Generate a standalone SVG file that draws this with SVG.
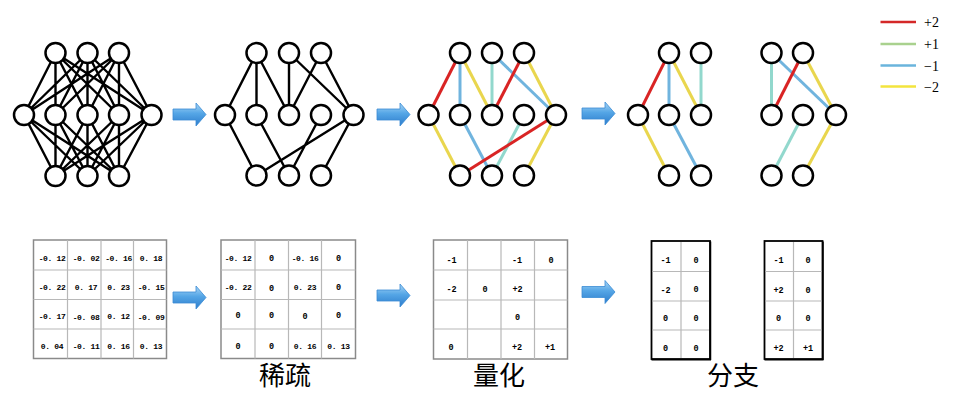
<svg xmlns="http://www.w3.org/2000/svg" width="958" height="404" viewBox="0 0 958 404">
<defs>
<linearGradient id="ag" x1="0" y1="0" x2="0" y2="1">
<stop offset="0" stop-color="#a9d6f6"/>
<stop offset="0.45" stop-color="#55a6e6"/>
<stop offset="1" stop-color="#2c7ccc"/>
</linearGradient>
<path id="arrow" d="M0,-5.5 H23 V-11.5 L33,0 L23,11.5 V5.5 H0 Z" fill="url(#ag)" stroke="#3a8bd4" stroke-width="0.8"/>
</defs>
<style>
.n circle{fill:#fff;stroke:#000;stroke-width:2.5}
.k{stroke:#000;stroke-width:2.4;fill:none}
.r{stroke:#d92424;stroke-width:3;fill:none}
.y{stroke:#e9d64e;stroke-width:3;fill:none}
.b{stroke:#70b4de;stroke-width:3;fill:none}
.t{stroke:#92d8cd;stroke-width:3;fill:none}
.grid{stroke:#b8b8b8;stroke-width:1.2;fill:none}
.box{stroke:#8a8a8a;stroke-width:1.5;fill:#fff}
.bbox{stroke:#000;stroke-width:1.8;fill:#fff}
.v{font-family:"Liberation Mono","DejaVu Sans Mono",monospace;font-weight:bold;font-size:8.5px;text-anchor:middle;fill:#000}
.d{font-size:8px;letter-spacing:-0.35px}
.cj{font-family:"Noto Sans CJK SC","Noto Sans",sans-serif;font-size:26px;text-anchor:middle;fill:#000}
.lg{font-family:"Liberation Serif","DejaVu Serif",serif;font-size:14px;fill:#000}
</style>

<g id="connectors">
<!-- network 1: fully connected -->
<path class="k" d="M55.5 53L24 115M55.5 53L55.5 115M55.5 53L87.5 115M55.5 53L119 115M55.5 53L151.5 115
M87.5 53L24 115M87.5 53L55.5 115M87.5 53L87.5 115M87.5 53L119 115M87.5 53L151.5 115
M119 53L24 115M119 53L55.5 115M119 53L87.5 115M119 53L119 115M119 53L151.5 115
M24 115L55.5 176M24 115L87.5 176M24 115L119 176
M55.5 115L55.5 176M55.5 115L87.5 176M55.5 115L119 176
M87.5 115L55.5 176M87.5 115L87.5 176M87.5 115L119 176
M119 115L55.5 176M119 115L87.5 176M119 115L119 176
M151.5 115L55.5 176M151.5 115L87.5 176M151.5 115L119 176"/>
<!-- network 2: sparse -->
<path class="k" d="M256.5 53L225 115M256.5 53L256.5 115M256.5 53L289 115M289 53L289 115M289 53L353.5 115M321 53L289 115M321 53L353.5 115
M225 115L256.5 175.5M256.5 115L289 175.5M321 115L289 175.5M353.5 115L256.5 175.5M353.5 115L321 175.5"/>
<!-- network 3: quantized -->
<line class="r" x1="460" y1="53" x2="428.5" y2="115"/>
<line class="b" x1="460" y1="53" x2="460" y2="115"/>
<line class="y" x1="460" y1="53" x2="492" y2="115"/>
<line class="t" x1="492" y1="53" x2="492" y2="115"/>
<line class="b" x1="492" y1="53" x2="556" y2="115"/>
<line class="r" x1="524" y1="53" x2="492" y2="115"/>
<line class="y" x1="524" y1="53" x2="556" y2="115"/>
<line class="y" x1="428.5" y1="115" x2="460" y2="175.5"/>
<line class="b" x1="460" y1="115" x2="492" y2="175.5"/>
<line class="t" x1="524" y1="115" x2="492" y2="175.5"/>
<line class="r" x1="556" y1="115" x2="460" y2="175.5"/>
<line class="y" x1="556" y1="115" x2="524" y2="175.5"/>
<!-- network 4a: branch -->
<line class="r" x1="669" y1="53" x2="638" y2="115"/>
<line class="b" x1="669" y1="53" x2="669" y2="115"/>
<line class="y" x1="669" y1="53" x2="701" y2="115"/>
<line class="t" x1="701" y1="53" x2="701" y2="115"/>
<line class="y" x1="638" y1="115" x2="669" y2="175.5"/>
<line class="b" x1="669" y1="115" x2="701" y2="175.5"/>
<!-- network 4b: branch -->
<line class="t" x1="771.5" y1="53" x2="771.5" y2="115"/>
<line class="b" x1="771.5" y1="53" x2="836" y2="115"/>
<line class="r" x1="803" y1="53" x2="771.5" y2="115"/>
<line class="y" x1="803" y1="53" x2="836" y2="115"/>
<line class="t" x1="803" y1="115" x2="771.5" y2="175.5"/>
<line class="y" x1="836" y1="115" x2="803" y2="175.5"/>
</g>

<g id="net1-nodes" class="n">
<circle cx="55.5" cy="53" r="10"/><circle cx="87.5" cy="53" r="10"/><circle cx="119" cy="53" r="10"/>
<circle cx="24" cy="115" r="10"/><circle cx="55.5" cy="115" r="10"/><circle cx="87.5" cy="115" r="10"/><circle cx="119" cy="115" r="10"/><circle cx="151.5" cy="115" r="10"/>
<circle cx="55.5" cy="176" r="10"/><circle cx="87.5" cy="176" r="10"/><circle cx="119" cy="176" r="10"/>
</g>
<g id="net2-nodes" class="n">
<circle cx="256.5" cy="53" r="10"/><circle cx="289" cy="53" r="10"/><circle cx="321" cy="53" r="10"/>
<circle cx="225" cy="115" r="10"/><circle cx="256.5" cy="115" r="10"/><circle cx="289" cy="115" r="10"/><circle cx="321" cy="115" r="10"/><circle cx="353.5" cy="115" r="10"/>
<circle cx="256.5" cy="175.5" r="10"/><circle cx="289" cy="175.5" r="10"/><circle cx="321" cy="175.5" r="10"/>
</g>
<g id="net3-nodes" class="n">
<circle cx="460" cy="53" r="10"/><circle cx="492" cy="53" r="10"/><circle cx="524" cy="53" r="10"/>
<circle cx="428.5" cy="115" r="10"/><circle cx="460" cy="115" r="10"/><circle cx="492" cy="115" r="10"/><circle cx="524" cy="115" r="10"/><circle cx="556" cy="115" r="10"/>
<circle cx="460" cy="175.5" r="10"/><circle cx="492" cy="175.5" r="10"/><circle cx="524" cy="175.5" r="10"/>
</g>
<g id="net4a-nodes" class="n">
<circle cx="669" cy="53" r="10"/><circle cx="701" cy="53" r="10"/>
<circle cx="638" cy="115" r="10"/><circle cx="669" cy="115" r="10"/><circle cx="701" cy="115" r="10"/>
<circle cx="669" cy="175.5" r="10"/><circle cx="701" cy="175.5" r="10"/>
</g>
<g id="net4b-nodes" class="n">
<circle cx="771.5" cy="53" r="10"/><circle cx="803" cy="53" r="10"/>
<circle cx="771.5" cy="115" r="10"/><circle cx="803" cy="115" r="10"/><circle cx="836" cy="115" r="10"/>
<circle cx="771.5" cy="175.5" r="10"/><circle cx="803" cy="175.5" r="10"/>
</g>

<g id="arrows">
<use href="#arrow" x="173" y="114.5"/>
<use href="#arrow" x="377" y="114.5"/>
<use href="#arrow" x="582" y="113.5"/>
<use href="#arrow" x="173" y="297.5"/>
<use href="#arrow" x="377" y="295.5"/>
<use href="#arrow" x="582" y="292"/>
</g>

<g id="legend">
<line x1="880.5" y1="22" x2="916" y2="22" stroke="#d42828" stroke-width="2.6"/>
<line x1="880.5" y1="44" x2="916" y2="44" stroke="#a9d18e" stroke-width="2.6"/>
<line x1="880.5" y1="65.5" x2="916" y2="65.5" stroke="#6ab4dc" stroke-width="2.6"/>
<line x1="880.5" y1="86.5" x2="916" y2="86.5" stroke="#f3e43e" stroke-width="2.6"/>
<text class="lg" x="924" y="27">+2</text>
<text class="lg" x="924" y="49">+1</text>
<text class="lg" x="924" y="70.5">−1</text>
<text class="lg" x="924" y="91.5">−2</text>
</g>

<g id="matrix-original">
<rect class="box" x="33.5" y="240" width="133" height="118.5"/>
<path class="grid" d="M67.5 240V358.5M101 240V358.5M133.5 240V358.5M33.5 270H166.5M33.5 299.5H166.5M33.5 329H166.5"/>
<text class="v d" x="52" y="260.5">-0. 12</text><text class="v d" x="86" y="260.5">-0. 02</text><text class="v d" x="118.5" y="260.5">-0. 16</text><text class="v d" x="151" y="260.5">0. 18</text>
<text class="v d" x="52" y="290">-0. 22</text><text class="v d" x="86" y="290">0. 17</text><text class="v d" x="118.5" y="290">0. 23</text><text class="v d" x="151" y="290">-0. 15</text>
<text class="v d" x="52" y="318.5">-0. 17</text><text class="v d" x="86" y="319.5">-0. 08</text><text class="v d" x="118.5" y="318.5">0. 12</text><text class="v d" x="151" y="319.5">-0. 09</text>
<text class="v d" x="52" y="349">0. 04</text><text class="v d" x="86" y="349">-0. 11</text><text class="v d" x="118.5" y="349">0. 16</text><text class="v d" x="151" y="349">0. 13</text>
</g>

<g id="matrix-sparse">
<rect class="box" x="221" y="240" width="134.5" height="118.5"/>
<path class="grid" d="M255 240V358.5M288.5 240V358.5M321.5 240V358.5M221 270H355.5M221 299.5H355.5M221 329H355.5"/>
<text class="v d" x="238" y="260.5">-0. 12</text><text class="v" x="271.5" y="260.5">0</text><text class="v d" x="305" y="260.5">-0. 16</text><text class="v" x="338.5" y="260.5">0</text>
<text class="v d" x="238" y="289.5">-0. 22</text><text class="v" x="271.5" y="291">0</text><text class="v d" x="305" y="289.5">0. 23</text><text class="v" x="338.5" y="290">0</text>
<text class="v" x="238" y="318">0</text><text class="v" x="271.5" y="317.5">0</text><text class="v" x="305" y="319">0</text><text class="v" x="338.5" y="318">0</text>
<text class="v" x="238" y="348.5">0</text><text class="v" x="271.5" y="349">0</text><text class="v d" x="305" y="349">0. 16</text><text class="v d" x="338.5" y="349">0. 13</text>
<text class="cj" x="285" y="385">稀疏</text>
</g>

<g id="matrix-quantized">
<rect class="box" x="433.5" y="240" width="134" height="119"/>
<path class="grid" d="M467.5 240V359M501 240V359M534.5 240V359M433.5 270H567.5M433.5 300H567.5M433.5 329H567.5"/>
<text class="v" x="451.5" y="263">-1</text><text class="v" x="517" y="263">-1</text><text class="v" x="551" y="263">0</text>
<text class="v" x="451.5" y="292">-2</text><text class="v" x="485" y="292">0</text><text class="v" x="517.5" y="292">+2</text>
<text class="v" x="517.5" y="319.5">0</text>
<text class="v" x="451" y="349.5">0</text><text class="v" x="517" y="349.5">+2</text><text class="v" x="550" y="349.5">+1</text>
<text class="cj" x="499" y="385">量化</text>
</g>

<g id="matrix-branch-a">
<rect class="bbox" x="651.5" y="241" width="58.5" height="118"/>
<path class="grid" d="M681 242V358M652.5 271.5H709M652.5 301H709M652.5 330H709"/>
<path d="M710.5 241.5V360M651.5 359.8H711" stroke="#000" stroke-width="1.5" fill="none"/>
<text class="v" x="665.5" y="263">-1</text><text class="v" x="696" y="263">0</text>
<text class="v" x="665.5" y="293">-2</text><text class="v" x="696" y="292">0</text>
<text class="v" x="665.5" y="321">0</text><text class="v" x="696" y="321">0</text>
<text class="v" x="665.5" y="350.5">0</text><text class="v" x="696" y="350.5">0</text>
</g>

<g id="matrix-branch-b">
<rect class="bbox" x="764.5" y="241" width="58" height="118"/>
<path class="grid" d="M793.5 242V358M765.5 271.5H821.5M765.5 301H821.5M765.5 330H821.5"/>
<path d="M823 241.5V360M764.5 359.8H823.5" stroke="#000" stroke-width="1.5" fill="none"/>
<text class="v" x="778.5" y="263">-1</text><text class="v" x="808" y="263">0</text>
<text class="v" x="778.5" y="293">+2</text><text class="v" x="808" y="293">0</text>
<text class="v" x="778.5" y="321">0</text><text class="v" x="808" y="321">0</text>
<text class="v" x="778.5" y="350.5">+2</text><text class="v" x="808" y="350.5">+1</text>
<text class="cj" x="733" y="385">分支</text>
</g>
</svg>
